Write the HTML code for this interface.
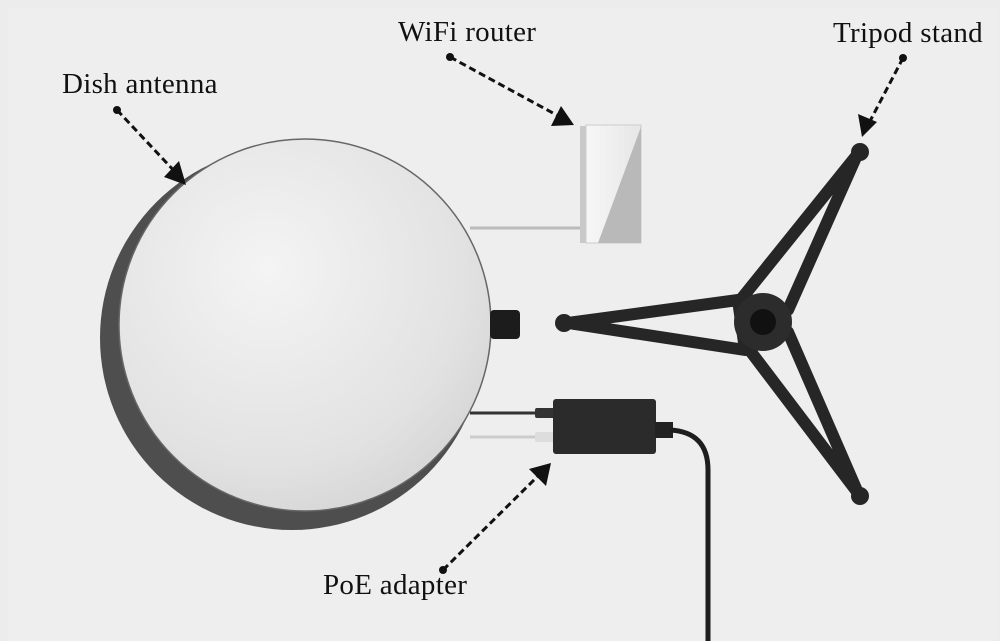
<!DOCTYPE html>
<html><head><style>
html,body{margin:0;padding:0;background:#ededed;}
svg{display:block}
text{font-family:"Liberation Serif",serif;font-size:29px;fill:#111;letter-spacing:0.3px}
</style></head><body>
<svg width="1000" height="641" viewBox="0 0 1000 641">
<defs>
<radialGradient id="dish" cx="0.4" cy="0.35" r="0.75">
<stop offset="0" stop-color="#f4f4f4"/><stop offset="0.7" stop-color="#e2e2e2"/><stop offset="1" stop-color="#d2d2d2"/>
</radialGradient>
<linearGradient id="rt" x1="0" y1="0" x2="1" y2="0"><stop offset="0" stop-color="#f7f7f7"/><stop offset="1" stop-color="#e6e6e6"/></linearGradient>
</defs>
<rect x="0" y="0" width="1000" height="641" fill="#ececec"/>
<rect x="8" y="8" width="990" height="640" fill="#eeeeee"/>
<!-- dish shadow -->
<circle cx="292" cy="338" r="192" fill="#4e4e4e"/>
<circle cx="305" cy="325" r="186" fill="url(#dish)" stroke="#666" stroke-width="1.5"/>
<!-- connector -->
<rect x="490" y="310" width="30" height="29" rx="4" fill="#1c1c1c"/>
<!-- router -->
<line x1="470" y1="228" x2="582" y2="228" stroke="#bbb" stroke-width="3"/>
<rect x="580" y="126" width="8" height="117" fill="#c9c9c9"/>
<rect x="586" y="125" width="55" height="118" fill="url(#rt)" stroke="#ccc"/>
<polygon points="641,127 641,243 598,243" fill="#b9b9b9"/>
<!-- poe -->
<line x1="470" y1="413" x2="555" y2="413" stroke="#333" stroke-width="3"/>
<line x1="470" y1="437" x2="555" y2="437" stroke="#ccc" stroke-width="3"/>
<rect x="535" y="408" width="20" height="10" rx="2" fill="#333"/>
<rect x="535" y="432" width="20" height="10" rx="2" fill="#ddd"/>
<rect x="553" y="399" width="103" height="55" rx="3" fill="#2b2b2b"/>
<rect x="655" y="422" width="18" height="16" fill="#222"/>
<path d="M670,430 Q708,432 708,470 L708,641" fill="none" stroke="#1e1e1e" stroke-width="5"/>
<!-- tripod -->
<g fill="none" stroke="#262626" stroke-width="12" stroke-linejoin="round">
<polygon points="568,323 738,300 745,350"/>
<polygon points="857,155 742,298 788,310"/>
<polygon points="858,493 748,348 788,332"/>
</g>
<g fill="#262626">
<circle cx="564" cy="323" r="9"/><circle cx="860" cy="152" r="9"/><circle cx="860" cy="496" r="9"/>
</g>
<circle cx="763" cy="322" r="29" fill="#2c2c2c"/>
<circle cx="763" cy="322" r="13" fill="#111"/>
<!-- labels -->
<text x="62" y="93">Dish antenna</text>
<text x="398" y="41">WiFi router</text>
<text x="833" y="42">Tripod stand</text>
<text x="323" y="594">PoE adapter</text>
<!-- arrows -->
<g stroke="#111" stroke-width="3" stroke-dasharray="7,4" fill="none">
<line x1="117" y1="110" x2="178" y2="175"/>
<line x1="450" y1="57" x2="562" y2="118"/>
<line x1="903" y1="58" x2="868" y2="125"/>
<line x1="443" y1="570" x2="540" y2="474"/>
</g>
<g fill="#111">
<circle cx="117" cy="110" r="4"/><circle cx="450" cy="57" r="4"/><circle cx="903" cy="58" r="4"/><circle cx="443" cy="570" r="4"/>
<polygon points="186,185 164,177 179,161"/>
<polygon points="574,125 551,126 561,106"/>
<polygon points="862,137 858,114 877,122"/>
<polygon points="551,463 546,486 529,469"/>
</g>
</svg>
</body></html>
